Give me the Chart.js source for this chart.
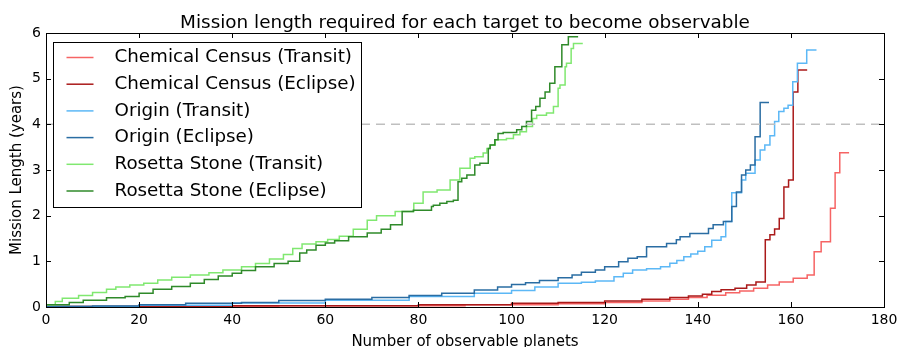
<!DOCTYPE html>
<html>
<head>
<meta charset="utf-8">
<script src="https://cdn.jsdelivr.net/npm/chart.js@4.4.1/dist/chart.umd.min.js"></script>
<style>
  html, body { margin: 0; padding: 0; background: #fff; }
  canvas { display: block; }
</style>
</head>
<body>
<canvas id="grafico" width="903" height="347"></canvas>
<script>
// número acumulado de planetas (x) e duração da missão em anos (y), pontos onde a escada muda
const censoTransitoX = [0, 50, 90, 110, 120, 128, 134, 138, 142, 146, 149, 152, 155, 157.5, 160.5, 163.5, 165, 166.5, 168.5, 169.5, 170.5, 171.5, 172.5];
const censoTransitoY = [0, 0.01, 0.03, 0.05, 0.07, 0.10, 0.13, 0.17, 0.21, 0.26, 0.31, 0.35, 0.41, 0.48, 0.55, 0.63, 0.70, 1.21, 1.43, 2.16, 2.94, 3.38, 3.38];

const censoEclipseX = [0, 40, 80, 100, 110, 120, 128, 134, 138, 141, 143, 145, 148, 150.5, 152.5, 154.5, 155.5, 156.5, 157.5, 158.5, 159.5, 160.5, 161.5, 162.5, 163.5];
const censoEclipseY = [0, 0.01, 0.03, 0.05, 0.08, 0.10, 0.13, 0.17, 0.21, 0.24, 0.28, 0.34, 0.38, 0.41, 0.48, 0.55, 1.47, 1.58, 1.71, 1.94, 2.63, 2.78, 4.71, 5.19, 5.19];

const origemTransitoX = [0, 20, 40, 60, 78, 92, 100, 105, 110, 115, 118, 122, 124, 126, 129, 132, 134, 135.5, 137, 138.5, 140, 141.5, 143, 145, 146, 147.3, 149.4, 150.3, 152.3, 153.4, 154.4, 155.5, 156.5, 157.4, 158.5, 159.4, 160.4, 161.4, 163.4, 164.4, 165.5];
const origemTransitoY = [0, 0.01, 0.04, 0.09, 0.15, 0.23, 0.30, 0.36, 0.44, 0.52, 0.54, 0.57, 0.66, 0.74, 0.81, 0.84, 0.88, 0.96, 1.02, 1.10, 1.16, 1.22, 1.32, 1.46, 1.54, 1.87, 2.50, 2.78, 2.93, 3.22, 3.44, 3.55, 3.75, 4.06, 4.28, 4.35, 4.42, 4.93, 5.34, 5.63, 5.63];

const origemEclipseX = [0, 10, 20, 30, 42, 50, 60, 70, 78, 85, 92, 97, 100, 103, 106, 110, 113, 115, 118, 120, 123, 125, 127, 129, 133.3, 135.4, 136.2, 138.3, 142.3, 143.3, 145.5, 147.3, 148.3, 149.4, 150.3, 151.3, 152.3, 153.4, 154.4, 155.3];
const origemEclipseY = [0, 0.01, 0.02, 0.05, 0.08, 0.10, 0.14, 0.17, 0.21, 0.25, 0.30, 0.37, 0.44, 0.49, 0.53, 0.58, 0.64, 0.70, 0.76, 0.81, 0.88, 0.99, 1.07, 1.10, 1.32, 1.39, 1.47, 1.54, 1.61, 1.72, 1.80, 1.87, 2.20, 2.52, 2.89, 3.00, 3.11, 3.73, 4.48, 4.48];

const rosettaTransitoX = [0, 2, 3.5, 7, 10, 13, 15, 18, 21, 24, 27, 31, 35, 38, 42, 45, 48, 51, 53, 55, 58, 60.5, 63, 66, 69, 71, 75, 79, 81, 84, 86.8, 88.9, 91.1, 92.1, 93.9, 94.7, 95.4, 96.5, 98.9, 100.4, 101.8, 103.2, 104.5, 105.4, 107.5, 109, 110, 110.4, 111.5, 111.8, 112.8, 113.3, 114.3, 115.3];
const rosettaTransitoY = [0, 0.05, 0.12, 0.19, 0.25, 0.32, 0.39, 0.44, 0.48, 0.52, 0.59, 0.65, 0.70, 0.75, 0.81, 0.88, 0.95, 1.05, 1.15, 1.28, 1.38, 1.43, 1.48, 1.55, 1.70, 1.90, 2.00, 2.09, 2.27, 2.52, 2.56, 2.78, 3.04, 3.26, 3.29, 3.37, 3.47, 3.55, 3.66, 3.69, 3.77, 3.84, 3.95, 4.13, 4.20, 4.25, 4.39, 4.79, 4.86, 5.26, 5.34, 5.66, 5.77, 5.77];

const rosettaEclipseX = [0, 5, 8, 13, 17, 20, 23, 27, 31, 34, 37, 40, 42, 45, 49, 52, 54.5, 56, 58, 60, 62, 65, 69, 72, 74, 76.5, 78.9, 82.8, 83.2, 84.6, 86.1, 87.5, 88.5, 89.3, 90.4, 92.1, 93.2, 95, 95.4, 96.4, 97.1, 98.2, 101.1, 102.2, 103.2, 104.3, 105.2, 106.1, 107.2, 108.2, 109.3, 110.8, 112.2, 113.3, 114.3];
const rosettaEclipseY = [0, 0.05, 0.10, 0.15, 0.20, 0.23, 0.30, 0.39, 0.45, 0.52, 0.60, 0.68, 0.74, 0.80, 0.88, 0.95, 1.00, 1.18, 1.25, 1.35, 1.40, 1.45, 1.54, 1.62, 1.70, 1.80, 2.09, 2.12, 2.20, 2.23, 2.27, 2.31, 2.34, 2.74, 2.82, 2.89, 3.11, 3.15, 3.47, 3.55, 3.66, 3.80, 3.82, 3.88, 3.95, 4.06, 4.31, 4.39, 4.57, 4.71, 4.90, 5.26, 5.74, 5.92, 5.92];

// linha de referência de 4 anos
const limiteAnos = 4;
const limiteX = [0, 180];

const marcasX = [0, 20, 40, 60, 80, 100, 120, 140, 160, 180];
const marcasY = [0, 1, 2, 3, 4, 5, 6];

const titulo = 'Mission length required for each target to become observable';

const series = [
  { label: 'Chemical Census (Transit)', xs: censoTransitoX, ys: censoTransitoY, cor: '#f66464' },
  { label: 'Chemical Census (Eclipse)', xs: censoEclipseX, ys: censoEclipseY, cor: '#aa1a1a' },
  { label: 'Origin (Transit)', xs: origemTransitoX, ys: origemTransitoY, cor: '#5cb8f6' },
  { label: 'Origin (Eclipse)', xs: origemEclipseX, ys: origemEclipseY, cor: '#2a6da3' },
  { label: 'Rosetta Stone (Transit)', xs: rosettaTransitoX, ys: rosettaTransitoY, cor: '#80e870' },
  { label: 'Rosetta Stone (Eclipse)', xs: rosettaEclipseX, ys: rosettaEclipseY, cor: '#2f8a2a' }
];

function criaDatasets() {
  const dados = series.map((s, i) => ({
    label: s.label,
    data: s.xs.map((x, k) => ({ x: x, y: s.ys[k] })),
    borderColor: s.cor,
    backgroundColor: s.cor,
    borderWidth: 1.5,
    pointRadius: 0,
    stepped: 'after',
    fill: false,
    order: series.length - i
  }));
  dados.push({
    label: '',
    data: limiteX.map(x => ({ x: x, y: limiteAnos })),
    borderColor: '#bfbfbf',
    borderWidth: 1.5,
    borderDash: [9, 6],
    pointRadius: 0,
    fill: false,
    order: 0
  });
  return dados;
}

// moldura, marcas internas, legenda e título desenhados por cima das linhas
const molduraPlugin = {
  id: 'moldura',
  afterDatasetsDraw(chart) {
    const ctx = chart.ctx;
    const a = chart.chartArea;
    const sx = chart.scales.x;
    const sy = chart.scales.y;
    ctx.save();
    ctx.strokeStyle = '#000';
    ctx.lineWidth = 1;
    ctx.strokeRect(Math.round(a.left) + 0.5, Math.round(a.top) + 0.5,
      Math.round(a.right - a.left), Math.round(a.bottom - a.top));

    ctx.beginPath();
    marcasX.forEach(v => {
      const px = Math.round(sx.getPixelForValue(v)) + 0.5;
      ctx.moveTo(px, a.bottom); ctx.lineTo(px, a.bottom - 5);
      ctx.moveTo(px, a.top); ctx.lineTo(px, a.top + 5);
    });
    marcasY.forEach(v => {
      const py = Math.round(sy.getPixelForValue(v)) + 0.5;
      ctx.moveTo(a.left, py); ctx.lineTo(a.left + 5, py);
      ctx.moveTo(a.right, py); ctx.lineTo(a.right - 5, py);
    });
    ctx.stroke();

    // título centrado na área do gráfico
    ctx.fillStyle = '#000';
    ctx.font = '18.4px "DejaVu Sans"';
    ctx.textAlign = 'center';
    ctx.textBaseline = 'alphabetic';
    ctx.fillText(titulo, (a.left + a.right) / 2, 27.5);

    // legenda
    const lx = Math.round(a.left) + 7.5;
    const ly = Math.round(a.top) + 9.5;
    ctx.fillStyle = '#fff';
    ctx.fillRect(lx, ly, 308, 165);
    ctx.strokeRect(lx, ly, 308, 165);
    ctx.font = '18.3px "DejaVu Sans"';
    ctx.textBaseline = 'middle';
    ctx.textAlign = 'left';
    series.forEach((s, i) => {
      const cy = ly + 15 + i * 26.7;
      ctx.strokeStyle = s.cor;
      ctx.lineWidth = 1.5;
      ctx.beginPath();
      ctx.moveTo(lx + 13, cy);
      ctx.lineTo(lx + 40, cy);
      ctx.stroke();
      ctx.fillStyle = '#000';
      ctx.fillText(s.label, lx + 61, cy);
    });
    ctx.restore();
  }
};

Chart.defaults.font.family = '"DejaVu Sans"';
Chart.defaults.color = '#000';

new Chart(document.getElementById('grafico').getContext('2d'), {
  type: 'line',
  data: { datasets: criaDatasets() },
  options: {
    responsive: false,
    animation: false,
    layout: { padding: { top: 33, right: 19, bottom: 0, left: 0 } },
    plugins: {
      legend: { display: false },
      tooltip: { enabled: false },
      title: { display: false }
    },
    scales: {
      x: {
        type: 'linear',
        min: 0,
        max: 180,
        afterBuildTicks: s => { s.ticks = marcasX.map(v => ({ value: v })); },
        ticks: { font: { size: 14 }, padding: 5, maxRotation: 0 },
        grid: { display: false, drawTicks: false },
        border: { display: false },
        title: { display: true, text: 'Number of observable planets', font: { size: 15 }, padding: { top: 0, bottom: -4.5 } },
        afterFit: s => { s.height = 40; }
      },
      y: {
        min: 0,
        max: 6,
        afterBuildTicks: s => { s.ticks = marcasY.map(v => ({ value: v })); },
        ticks: { font: { size: 14 }, padding: 5 },
        grid: { display: false, drawTicks: false },
        border: { display: false },
        title: { display: true, text: 'Mission Length (years)', font: { size: 15 }, padding: { top: 8, bottom: 0 } },
        afterFit: s => { s.width = 46; }
      }
    }
  },
  plugins: [molduraPlugin]
});
</script>
</body>
</html>
